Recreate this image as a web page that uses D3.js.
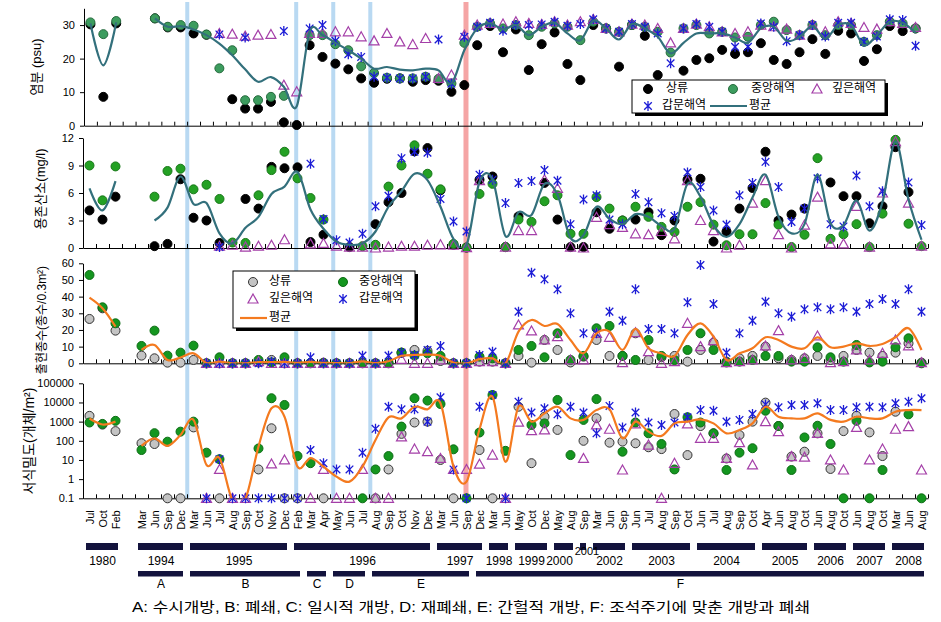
<!DOCTYPE html>
<html><head><meta charset="utf-8">
<script src="https://cdn.jsdelivr.net/npm/d3@7"></script>
<style>
body{margin:0;background:#fff}
text{font-family:"Liberation Sans",Arial,"Noto Sans CJK KR",sans-serif;fill:#000}
</style></head>
<body><svg id="chart" width="941" height="622"></svg>
<script>
// ---------- categories (sampling months) ----------
const categories = ["Jul","Oct","Feb","","Mar","Jun","Sep","Dec","Mar","Jun","Jul","Aug","Sep","Oct","Nov","Dec",
 "Feb","Mar","Apr","May","Jun","Jul","Aug","Sep","Oct","Nov","Dec","Mar","Jun","Sep","Dec","Mar","Jun",
 "May","Oct","Dec","May","Aug","Sep","Mar","Jun","Sep","Jun","Jul","Aug","Sep","Oct","Jun","Jul","Aug","Sep","Oct",
 "Apr","Jun","Aug","Oct","Jun","Aug","Oct","Jun","Aug","Oct","Mar","Jun","Aug"];
const seriesNames = ["상류","중앙해역","깊은해역","갑문해역","평균"];
const N = null;

// ---------- panel 1: salinity (psu) ----------
const salUp = [30.2,8.6,30.5,N,N, 32.0,29.3,29.3,27.5,27.1, N,7.9,5.1,5.1,7.1, 1.0,0.2,24.0,20.5,18.5,
 16.8,14.1,12.8,14.0,14.1, 13.1,13.6,13.4,10.1,12.1, 24.0,29.7,21.9,28.7,16.6, 24.3,27.8,18.4,13.6,30.0,
 29.0,17.6,30.0,26.8,15.1, N,16.4,19.6,20.1,22.6, 21.4,21.9,24.6,19.6,18.4, 21.9,25.8,21.4,28.3,27.5, 19.3,22.8,29.7,28.2,29.0];
const salMid = [30.8,27.3,31.2,N,N, 32.0,29.5,30.0,29.8,27.2, 17.1,22.5,7.6,7.6,8.6, 8.9,N,27.0,27.0,24.3,
 22.5,17.7,15.7,14.3,14.1, 14.1,14.6,14.0,12.6,24.7, 29.5,30.5,29.0,30.0,27.0, 29.5,30.5,29.5,25.5,31.0,
 29.0,28.0,30.0,29.5,28.0, 21.8,29.0,30.0,27.5,28.0, 26.3,26.5,30.0,31.0,28.5, 27.0,30.0,27.0,30.0,30.0, 25.0,27.0,31.0,30.5,29.0];
const salDeep = [N,N,N,N,N, N,N,N,N,N, 27.5,27.3,26.7,27.0,27.2, 12.1,10.1,27.5,27.5,28.0,
 28.0,26.5,25.3,27.5,25.0, 24.2,26.0,14.1,15.1,27.0, 30.0,30.5,30.3,31.0,30.5, 30.2,31.0,30.0,31.0,31.7,
 29.0,28.0,30.3,30.0,29.0, 24.7,29.0,30.3,29.5,28.0, 27.5,28.0,30.0,29.5,28.8, 27.0,30.0,28.0,31.0,30.5, 29.3,28.8,31.0,30.5,29.3];
const salGate = [N,N,N,N,N, N,N,N,N,N, 27.2,N,26.3,N,N, 28.2,N,29.0,30.0,25.3,
 21.3,20.5,14.6,14.3,14.1, 14.1,14.6,25.7,12.5,26.5, 29.5,30.7,28.3,30.0,30.0, 30.2,31.0,29.8,30.3,31.7,
 29.0,28.0,30.3,29.5,27.5, 18.6,29.0,30.3,29.5,28.0, 23.5,23.5,30.5,29.5,25.2, 27.0,30.0,26.6,30.7,30.7, 25.0,26.6,31.7,31.5,23.8];
const salMean = [30.5,18.0,30.8,N,N, 32.0,29.5,29.7,28.7,27.0, 24.5,21.0,16.8,13.1,14.5, 11.6,5.8,28.0,27.0,24.7,
 22.5,20.0,17.0,17.5,16.7, 16.5,17.0,16.5,12.6,22.5, 29.0,30.5,28.7,30.0,27.0, 29.5,30.7,27.5,25.5,31.3,
 29.0,25.7,30.3,29.0,26.5, 21.6,24.7,27.5,27.5,27.5, 26.3,24.7,29.0,29.5,25.3, 26.5,29.7,26.0,30.0,30.0, 24.0,27.0,31.0,30.7,27.7];

// ---------- panel 2: dissolved oxygen (mg/l) ----------
const doUp = [4.1,3.1,5.6,N,N, 0.2,0.45,7.5,3.3,3.0, 0.55,N,5.35,4.3,8.85, 8.7,8.8,0.65,1.45,N,
 0.1,N,2.6,5.0,6.0, 10.55,10.9,6.3,0.35,0.05, 7.45,7.8,0.1,3.45,N, 7.1,3.1,0.1,0.1,3.9,
 2.1,3.0,3.1,3.9,1.4, 3.0,7.45,7.55,0.7,1.8, 4.3,6.55,10.5,3.0,3.65, 4.3,N,7.15,5.65,5.65, 2.7,4.55,11.0,6.1,N];
const doMid = [9.0,5.2,8.9,N,N, 5.6,8.4,8.65,6.4,6.9, 5.35,0.6,0.55,5.75,8.5, 10.5,7.6,5.45,3.1,N,
 N,0.2,0.35,6.7,9.0, 11.2,8.1,6.4,0.45,0.05, 5.9,7.0,0.1,3.1,2.85, 5.1,5.75,1.55,1.55,5.55,
 4.3,3.0,4.5,3.4,2.3, 1.75,4.5,5.0,2.55,0.3, 1.5,1.5,4.9,2.55,0.1, 1.45,9.8,1.0,1.5,2.6, 0.1,3.75,11.8,2.65,0.2];
const doDeep = [N,N,N,N,N, N,N,N,N,N, 0.2,0.3,0.1,0.2,0.3, 0.9,N,0.45,0.5,0.2,
 0.1,0.1,0.0,0.1,0.2, 0.2,0.3,0.35,0.3,0.05, 7.35,N,0.1,1.9,1.9, 7.45,6.5,0.1,0.0,3.35,
 2.55,2.25,1.55,1.45,1.8, 1.0,7.35,3.0,1.9,0.0, 0.3,4.9,7.35,1.45,0.0, 2.5,5.55,0.45,0.45,4.55, 0.1,6.0,11.6,4.9,0.2];
const doGate = [N,N,N,N,N, N,N,N,N,N, 0.1,N,N,N,N, N,N,9.2,3.15,0.85,
 0.6,1.55,4.55,5.7,9.8, 10.5,10.4,5.35,2.9,1.8, 8.0,7.45,4.9,7.1,7.3, 8.5,7.35,2.6,5.3,5.75,
 3.1,2.6,5.9,5.0,3.8, 3.5,8.25,6.65,4.1,2.55, 5.75,7.1,9.4,6.65,2.85, 4.3,7.6,2.6,2.35,7.9, 4.55,6.2,N,7.15,2.5];
const doMean = [6.5,4.1,7.3,N,N, 3.0,4.4,7.8,4.8,4.9, 1.6,0.5,2.2,3.4,5.9, 6.7,8.3,4.2,2.1,0.7,
 0.35,0.5,1.8,4.5,6.2, 8.1,7.4,4.5,1.0,0.3, 7.2,7.5,1.3,3.9,3.6, 7.0,5.8,1.1,1.4,4.5,
 3.2,2.6,3.7,3.4,2.4, 2.1,7.0,5.6,2.5,1.2, 2.6,5.5,8.0,3.4,1.6, 2.6,8.0,2.7,2.5,5.2, 1.9,5.0,11.6,5.3,0.9];

// ---------- panel 3: number of species (per 0.3 m2) ----------
const spUp = [26.6,33.0,19.6,N,4.6, 3.0,0.4,0.4,2.0,0, 0,0,0,0.5,2.0, 0,0,0,0.4,0,
 0,0,0,0,6.4, 8.0,7.4,1.4,0,0, 1.0,1.0,0,4.4,0.4, 14.0,8.0,0.5,4.0,14.0,
 4.4,4.4,18.0,2.0,3.6, 4.4,1.0,8.0,12.4,1.0, 3.0,4.4,10.0,3.0,2.0, 3.0,4.4,2.0,4.4,8.0, 6.4,4.4,6.4,12.0,0.4];
const spMid = [53.0,33.6,24.0,N,10.4, 19.6,4.6,6.4,10.6,0, 3.6,0,0,2.0,0.5, 3.6,0,0.3,0,0,
 0,0.4,0,0.3,6.4, 4.6,6.0,4.4,0,0, 4.0,3.0,0,8.0,10.4, 3.6,18.0,2.0,4.4,21.0,
 22.4,4.4,2.0,14.0,4.4, 2.0,8.0,18.0,8.0,0.5, 1.0,2.0,4.4,4.4,1.0, 1.0,9.6,3.6,1.0,11.0, 0.5,1.0,9.6,15.0,0];
const spDeep = [N,N,N,N,N, N,N,N,N,0, 0,0,0,1.0,0, 0,0,0,0,0,
 0,0,0,0,2.4, 0,0,2.0,0,0, 1.0,1.0,0,23.0,19.4, 14.0,16.0,2.0,2.0,18.0,
 15.6,0.4,18.4,7.0,0, 1.0,24.0,10.0,13.6,0.4, 1.0,2.0,10.4,19.6,2.0, 3.0,16.4,0.4,1.0,8.0, 2.0,6.0,14.0,10.4,0.4];
const spGate = [N,N,N,N,N, N,N,N,N,0, 0,0,0,0,1.0, 0,0,3.6,0,0,
 0,4.6,0,4.6,6.4, 5.0,8.0,10.4,0,0, 5.0,7.0,0,31.0,54.4, 50.4,44.4,30.0,18.0,18.0,
 31.0,25.6,44.4,20.6,20.6, 18.0,36.6,59.0,35.6,6.4, 18.0,25.6,37.0,30.0,28.0, 32.4,33.6,32.4,33.6,31.0, 35.6,38.6,35.6,44.4,31.0];
const spMean = [39.4,33.0,22.0,N,8.0, 11.0,2.0,3.5,6.0,0.2, 1.0,0,0,0.7,0.7, 0.8,0.2,0.8,0.2,0.1,
 0.1,1.2,0.1,1.2,4.5, 5.0,5.2,4.5,0.4,0, 2.5,3.0,0,19.0,26.0, 22.4,23.6,14.0,6.0,18.0,
 19.0,8.0,20.6,9.0,6.0, 4.4,17.0,24.0,16.0,2.0, 6.0,9.0,15.6,14.0,10.0, 9.0,15.6,9.6,10.0,12.0, 10.4,11.6,15.6,21.0,8.0];

// ---------- panel 4: density (ind./m2, log) ----------
const dnUp = [2000,700,320,N,75, 68,0.1,0.1,500,N, 0.1,N,N,3.2,450, 0.1,0.1,N,0.1,N,
 N,N,0.1,3.2,230, 900,1000,10,0.1,N, 33,0.1,N,6000,6.8, 1800,370,N,100,1500,
 80,91,74,46,37, 2500,18,590,245,12, 200,1000,9800,590,15, 27,245,3.4,320,2000, 275,16,3300,N,N];
const dnMid = [900,760,1100,N,33, 250,90,300,1000,24, 11,N,N,40,16600, 7400,16,6.8,N,N,
 N,0.1,3.2,16,550, 16600,12500,8300,36,0.1, 270,24500,30,N,670, 810,13500,18,1230,15000,
 N,27,900,245,68, 3.2,1700,900,245,3, 24,41,3700,590,3, 150,610,68,0.1,1100, 0.1,3,N,2400,0.1];
const dnDeep = [N,N,N,N,N, N,N,N,N,0.1, 3.2,0.1,0.1,N,6.2, 10,N,0.1,3.2,0.1,
 0.1,3.2,0.1,0.1,160, 37,27,12,3.2,3.2, 6,18,0.1,940,340, 370,N,N,12,680,
 400,3,760,60,0.1, 6.7,760,135,135,12, 80,5.5,1000,300,15, 14,245,10,3,500, 10,37,400,550,3];
const dnGate = [N,N,N,N,N, N,N,N,N,0.1, 11,0.1,0.1,0.1,0.1, 0.1,0.1,33,6.8,3.2,
 3.2,24,420,6000,4400, 4400,1000,18600,3.2,0.1, 6000,24500,0.1,11000,3000, 5000,2400,6000,3000,245,
 6600,500,3000,900,670, 900,1700,4000,3700,1000, 1230,2500,7900,5600,7400, 7400,9100,4000,4000,5600, 6000,5600,9100,11000,16600];
const dnMean = [1450,710,1000,N,54, 135,54,200,1230,5.5, 12.6,0.08,0.1,50,5000, 1800,4.5,12.6,4.5,1.35,
 0.74,4.5,110,1660,1480, 6000,4400,9100,4.5,0.74, 400,20000,8,6000,1000, 2700,6000,1480,1230,4000,
 4400,135,1000,300,180, 810,1000,1320,810,245, 370,810,6000,1800,1480, 1480,2700,1230,1000,1800, 1480,1480,3300,4000,4000];

// ---------- management periods ----------
const years = [["1980",0,2],["1994",4,7],["1995",8,15],["1996",16,26],["1997",27,30],["1998",31,32],
 ["1999",33,35],["2000",36,37],["2001",38,38],["2002",39,41],["2003",42,46],["2004",47,51],
 ["2005",52,55],["2006",56,58],["2007",59,61],["2008",62,64]];
const periods = [["A",4,7],["B",8,16],["C",17,18],["D",19,21],["E",22,29],["F",30,64]];
const caption = "A: 수시개방, B: 폐쇄, C: 일시적 개방, D: 재폐쇄, E: 간헐적 개방, F: 조석주기에 맞춘 개방과 폐쇄";
const blueEvents = [7.52, 15.9, 18.75, 21.6];
const redEvents = [28.96];

// ---------- drawing ----------
const svg = d3.select("#chart");
const xTop = d3.scaleLinear().domain([-0.5,64.5]).range([84,922]);
const xLow = d3.scaleLinear().domain([-0.5,64.5]).range([83,928]);

const BLACK = {fill:"#000",stroke:"#000"};
const GRAY = {fill:"#c4c4c4",stroke:"#333"};
const TRI = {fill:"none",stroke:"#a43fa8"};
const STAR = {fill:"none",stroke:"#1c1cd6"};

const panels = [
 {x:xTop, y:d3.scaleLinear().domain([0,35]).range([125.7,8.3]), ticks:[0,10,20,30], fmt:d=>d,
  series:[[salUp,"circle",BLACK],[salMid,"circle",{fill:"#3c9c5e",stroke:"#276b3e"}],[salDeep,"tri",TRI],[salGate,"star",STAR]],
  mean:salMean, lineColor:"#33707c", title:"염분 (psu)", tx:38, ty:67, tfs:13},
 {x:xLow, y:d3.scaleLinear().domain([0,12]).range([248,138]), ticks:[0,3,6,9,12], fmt:d=>d,
  series:[[doUp,"circle",BLACK],[doMid,"circle",{fill:"#24a124",stroke:"#187818"}],[doDeep,"tri",TRI],[doGate,"star",STAR]],
  mean:doMean, lineColor:"#33707c", title:"용존산소(mg/l)", tx:42, ty:189, tfs:13},
 {x:xLow, y:d3.scaleLinear().domain([0,60]).range([363.3,263.3]), ticks:[0,10,20,30,40,50,60], fmt:d=>d,
  series:[[spUp,"circle",GRAY],[spMid,"circle",{fill:"#14961f",stroke:"#0c6c14"}],[spDeep,"tri",TRI],[spGate,"star",STAR]],
  mean:spMean, lineColor:"#f47a1f", title:"출현종수(종수/0.3m²)", tx:43, ty:320, tfs:12},
 {x:xLow, y:d3.scaleLog().domain([0.1,100000]).range([498.3,383.3]), ticks:[0.1,1,10,100,1000,10000,100000], fmt:d=>d<1?"0.1":d3.format("d")(d),
  series:[[dnUp,"circle",GRAY],[dnMid,"circle",{fill:"#14961f",stroke:"#0c6c14"}],[dnDeep,"tri",TRI],[dnGate,"star",STAR]],
  mean:dnMean, lineColor:"#f47a1f", title:"서식밀도(개체/m²)", tx:30, ty:441, tfs:14}
];

// event bands (behind everything)
const bandG = svg.append("g");
bandG.selectAll("rect.b").data(blueEvents).join("rect").attr("class","b")
 .attr("x",d=>xLow(d)-2).attr("width",4).attr("y",2).attr("height",496).attr("fill","#b9d9f2");
bandG.selectAll("rect.r").data(redEvents).join("rect").attr("class","r")
 .attr("x",d=>xLow(d)-2.5).attr("width",5).attr("y",2).attr("height",496).attr("fill","#f5a5a5");

function markerPath(type){
  if(type==="tri") return "M0,-5L5,4L-5,4Z";
  if(type==="star") return "M0,-5V5M-3.8,-3.8L3.8,3.8M-3.8,3.8L3.8,-3.8";
  return null;
}
function drawMarkers(g, pts, type, st){
  if(type==="circle"){
    g.selectAll(null).data(pts).join("circle").attr("cx",d=>d.x).attr("cy",d=>d.y).attr("r",4.5)
     .attr("fill",st.fill).attr("stroke",st.stroke).attr("stroke-width",1);
  } else {
    g.selectAll(null).data(pts).join("path").attr("d",markerPath(type))
     .attr("transform",d=>`translate(${d.x},${d.y})`).attr("fill",st.fill).attr("stroke",st.stroke)
     .attr("stroke-width",type==="star"?1.3:1.2);
  }
}

panels.forEach((p,pi)=>{
  const g = svg.append("g");
  const [y0,y1] = p.y.range();
  const [x0,x1] = p.x.range();
  g.append("g").attr("transform",`translate(${x0},0)`)
   .call(d3.axisLeft(p.y).tickValues(p.ticks).tickFormat(p.fmt).tickSize(4).tickSizeOuter(0).tickPadding(5))
   .call(a=>a.selectAll("text").attr("font-size",11))
   .call(a=>a.selectAll("path,line").attr("stroke","#000"));
  g.append("g").attr("transform",`translate(0,${y0})`)
   .call(d3.axisBottom(p.x).tickValues(d3.range(-0.5,65,1)).tickFormat("").tickSize(-4).tickSizeOuter(0))
   .call(a=>a.selectAll("path,line").attr("stroke","#000"));
  g.append("text").attr("transform",`translate(${p.tx},${p.ty}) rotate(-90)`).attr("text-anchor","middle")
   .attr("dominant-baseline","middle").attr("font-size",p.tfs).text(p.title);
  p.series.forEach(([arr,type,st])=>{
    const pts = arr.map((v,i)=>({i,v})).filter(d=>d.v!=null).map(d=>({x:p.x(d.i),y:p.y(d.v)}));
    drawMarkers(g.append("g"), pts, type, st);
  });
  const cid = "clip"+pi;
  svg.append("clipPath").attr("id",cid).append("rect").attr("x",x0).attr("y",y1-2).attr("width",x1-x0).attr("height",y0-y1+2);
  const line = d3.line().defined(d=>d!=null).x((d,i)=>p.x(i)).y(d=>p.y(d)).curve(d3.curveCardinal.tension(0));
  g.append("path").attr("d",line(p.mean)).attr("fill","none").attr("stroke",p.lineColor)
   .attr("stroke-width",2.2).attr("clip-path",`url(#${cid})`);
});

// x category labels (bottom)
svg.append("g").attr("transform","translate(0,498.3)")
 .call(d3.axisBottom(xLow).tickValues(d3.range(65)).tickFormat(i=>categories[i]).tickSize(0))
 .call(a=>a.select(".domain").remove())
 .call(a=>a.selectAll("text").attr("font-size",11).attr("transform","rotate(-90)")
   .attr("x",-12).attr("y",0).attr("dy","0.35em").style("text-anchor","end"));

// legends
function legendItem(g, type, st, x, y){
  if(type==="line"){
    g.append("line").attr("x1",x[0]).attr("x2",x[1]).attr("y1",y).attr("y2",y).attr("stroke",st).attr("stroke-width",2.2);
  } else drawMarkers(g.append("g"), [{x:x,y:y}], type, st);
}
function legend(box, items, textFs){
  const g = svg.append("g");
  g.append("rect").attr("x",box[0]+3).attr("y",box[1]+3).attr("width",box[2]).attr("height",box[3]).attr("fill","#000");
  g.append("rect").attr("x",box[0]).attr("y",box[1]).attr("width",box[2]).attr("height",box[3]).attr("fill","#fff").attr("stroke","#000");
  items.forEach(it=>{
    legendItem(g, it.type, it.st, it.mx, it.y);
    g.append("text").attr("x",it.tx).attr("y",it.y).attr("dominant-baseline","middle").attr("font-size",textFs).text(it.label);
  });
}
legend([632,80,253,33],[
 {type:"circle",st:BLACK,mx:648,tx:666,y:89,label:seriesNames[0]},
 {type:"circle",st:{fill:"#3c9c5e",stroke:"#276b3e"},mx:733,tx:751,y:89,label:seriesNames[1]},
 {type:"tri",st:TRI,mx:817,tx:832,y:89,label:seriesNames[2]},
 {type:"star",st:STAR,mx:648,tx:662,y:106,label:seriesNames[3]},
 {type:"line",st:"#33707c",mx:[710,747],tx:749,y:106,label:seriesNames[4]}
],12);
legend([233,271,182,57],[
 {type:"circle",st:GRAY,mx:253,tx:269,y:282,label:seriesNames[0]},
 {type:"circle",st:{fill:"#14961f",stroke:"#0c6c14"},mx:343,tx:359,y:282,label:seriesNames[1]},
 {type:"tri",st:TRI,mx:253,tx:269,y:299,label:seriesNames[2]},
 {type:"star",st:STAR,mx:343,tx:359,y:299,label:seriesNames[3]},
 {type:"line",st:"#f47a1f",mx:[240,267],tx:269,y:318,label:seriesNames[4]}
],12);

// year bars
const yg = svg.append("g");
yg.selectAll("rect").data(years).join("rect")
 .attr("x",d=>xLow(d[1]-0.5)+3).attr("width",d=>xLow(d[2]+0.5)-4-(xLow(d[1]-0.5)+3))
 .attr("y",543).attr("height",7).attr("fill","#13133d");
const yearShift = {"2000":-4.5,"2001":3.5};
yg.selectAll("text").data(years).join("text")
 .attr("x",d=>(xLow(d[1]-0.5)+xLow(d[2]+0.5))/2+(yearShift[d[0]]||0))
 .attr("y",d=>d[0]==="2001"?555:565)
 .attr("text-anchor","middle").attr("font-size",d=>d[0]==="2001"?11:12).text(d=>d[0]);

// period bars
const pg = svg.append("g");
pg.selectAll("rect").data(periods).join("rect")
 .attr("x",d=>xLow(d[1]-0.5)+3).attr("width",d=>xLow(d[2]+0.5)-4-(xLow(d[1]-0.5)+3))
 .attr("y",571).attr("height",5.5).attr("fill","#13133d");
pg.selectAll("text").data(periods).join("text")
 .attr("x",d=>(xLow(d[1]-0.5)+xLow(d[2]+0.5))/2-(d[0]==="F"?20:0)).attr("y",588)
 .attr("text-anchor","middle").attr("font-size",12).text(d=>d[0]);

svg.append("text").attr("x",132).attr("y",612).attr("font-size",14)
 .attr("textLength",678).attr("lengthAdjust","spacingAndGlyphs").text(caption);
</script></body></html>
